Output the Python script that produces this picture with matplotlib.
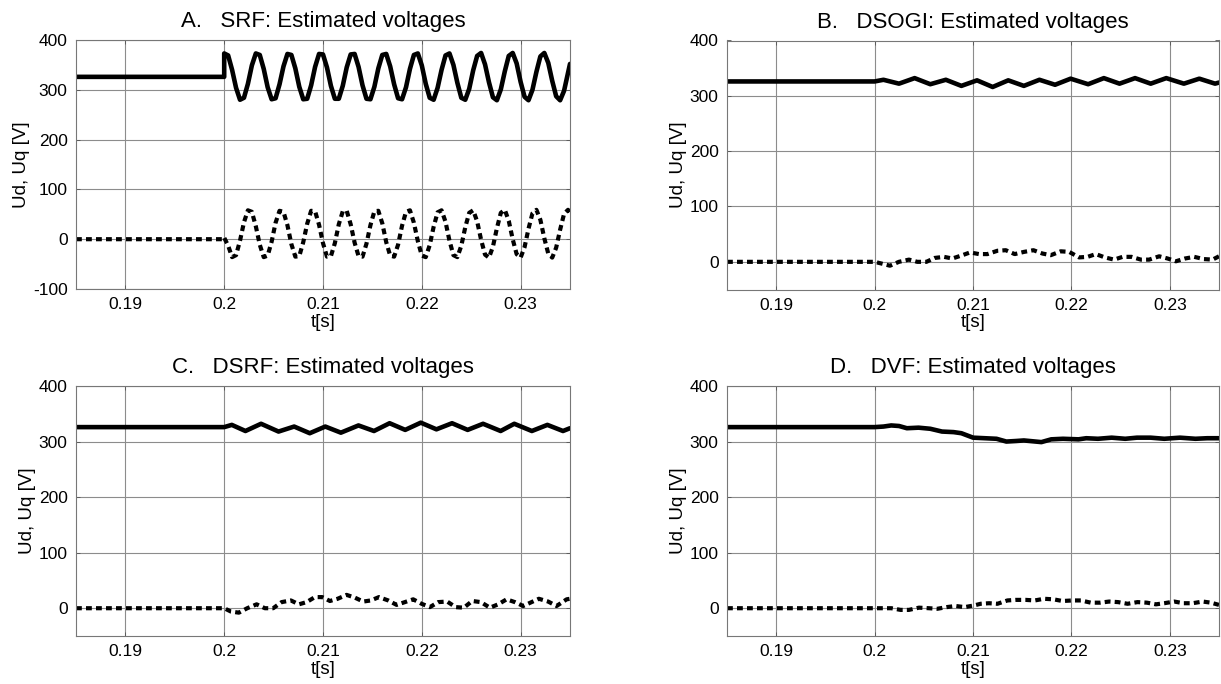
import numpy as np
import matplotlib.pyplot as plt

plt.rcParams['font.family'] = ['Liberation Sans', 'DejaVu Sans']
plt.rcParams['axes.unicode_minus'] = False

# ---- data (t in s, voltages in V) ----
t_pre = [0.185, 0.2]
ud_pre = [326, 326]
uq_pre = [0, 0]

# A. SRF, sampled every 0.4 ms after the disturbance
t_a = [0.2000, 0.2004, 0.2008, 0.2012, 0.2016, 0.2020, 0.2024, 0.2028,
       0.2032, 0.2036, 0.2040, 0.2044, 0.2048, 0.2052, 0.2056, 0.2060,
       0.2064, 0.2068, 0.2072, 0.2076, 0.2080, 0.2084, 0.2088, 0.2092,
       0.2096, 0.2100, 0.2104, 0.2108, 0.2112, 0.2116, 0.2120, 0.2124,
       0.2128, 0.2132, 0.2136, 0.2140, 0.2144, 0.2148, 0.2152, 0.2156,
       0.2160, 0.2164, 0.2168, 0.2172, 0.2176, 0.2180, 0.2184, 0.2188,
       0.2192, 0.2196, 0.2200, 0.2204, 0.2208, 0.2212, 0.2216, 0.2220,
       0.2224, 0.2228, 0.2232, 0.2236, 0.2240, 0.2244, 0.2248, 0.2252,
       0.2256, 0.2260, 0.2264, 0.2268, 0.2272, 0.2276, 0.2280, 0.2284,
       0.2288, 0.2292, 0.2296, 0.2300, 0.2304, 0.2308, 0.2312, 0.2316,
       0.2320, 0.2324, 0.2328, 0.2332, 0.2336, 0.2340, 0.2344, 0.2348,
       0.2350]
ud_a = [373, 369, 340, 304, 280, 284, 312, 349,
        373, 370, 342, 305, 281, 283, 311, 347,
        372, 370, 343, 306, 281, 282, 309, 346,
        372, 371, 345, 308, 282, 282, 308, 345,
        371, 372, 346, 309, 282, 281, 306, 343,
        370, 372, 347, 311, 283, 281, 305, 342,
        370, 373, 349, 312, 284, 280, 304, 340,
        369, 373, 350, 314, 284, 280, 302, 339,
        368, 374, 351, 315, 285, 279, 301, 337,
        368, 374, 353, 316, 286, 279, 300, 336,
        367, 374, 354, 318, 287, 279, 298, 334,
        352]
uq_a = [3, -13, -36, -32, -3, 34, 58, 55,
        26, -11, -36, -33, -5, 33, 57, 55,
        28, -10, -35, -34, -6, 31, 57, 56,
        29, -8, -35, -34, -8, 30, 56, 57,
        30, -7, -34, -35, -9, 28, 56, 57,
        32, -6, -33, -35, -11, 27, 55, 58,
        33, -4, -33, -36, -12, 25, 54, 58,
        35, -3, -32, -36, -13, 24, 53, 58,
        36, -1, -31, -37, -15, 22, 53, 59,
        37, 0, -30, -37, -16, 21, 52, 59,
        39, 2, -29, -37, -17, 19, 51, 59,
        53]

# B. DSOGI
t_b_ud = [0.2009, 0.20248, 0.20407, 0.20566, 0.20724, 0.20882, 0.21041,
          0.212, 0.21358, 0.21517, 0.21675, 0.21834, 0.21992, 0.2217,
          0.2233, 0.22489, 0.22647, 0.22806, 0.22964, 0.23143, 0.233,
          0.2346, 0.235]
ud_b = [329, 322, 332, 321, 329, 318, 328, 316, 328, 318, 329, 320, 331,
        321, 332, 322, 332, 322, 332, 322, 331, 322, 324]
t_b_uq = [0.20068, 0.20156, 0.20247, 0.20349, 0.20434, 0.20526, 0.2061,
          0.20705, 0.2079, 0.20892, 0.2097, 0.21061, 0.21146, 0.21248,
          0.21333, 0.21424, 0.21519, 0.21614, 0.21706, 0.2179, 0.21892,
          0.21977, 0.22078, 0.22164, 0.22248, 0.2234, 0.22434, 0.2252,
          0.22611, 0.22706, 0.2279, 0.22892, 0.22978, 0.23062, 0.23154,
          0.23248, 0.23344, 0.23435, 0.235]
uq_b = [-3, -7, 0, 4, 0, 0, 7, 9, 6, 12, 17, 14, 14, 20, 21, 14, 18, 21,
        15, 12, 19, 18, 8, 9, 14, 8, 4, 9, 9, 4, 4, 10, 6, 1, 6, 9, 5, 4, 10]

# C. DSRF
t_c_ud = [0.20077, 0.20215, 0.20373, 0.2055, 0.20708, 0.20866, 0.21023,
          0.21181, 0.21359, 0.21516, 0.21674, 0.21832, 0.2199, 0.22148,
          0.22306, 0.22464, 0.2262, 0.22798, 0.22936, 0.23114, 0.23271,
          0.23429, 0.235]
ud_c = [330, 319, 332, 318, 327, 315, 327, 316, 329, 319, 333, 321, 334,
        322, 333, 321, 332, 319, 332, 319, 330, 319, 324]
t_c_uq = [0.20068, 0.20149, 0.20233, 0.20328, 0.20412, 0.20496, 0.20581,
          0.20675, 0.20756, 0.20834, 0.20918, 0.20992, 0.2107, 0.21148,
          0.21239, 0.21323, 0.21407, 0.21485, 0.21566, 0.2166, 0.21745,
          0.21829, 0.21913, 0.21998, 0.22082, 0.22166, 0.22257, 0.22342,
          0.22426, 0.2251, 0.22598, 0.22689, 0.22773, 0.22858, 0.22942,
          0.23026, 0.23111, 0.23185, 0.23279, 0.23364, 0.23466, 0.235]
uq_c = [-6, -8, 0, 7, 0, 0, 11, 14, 7, 11, 20, 20, 13, 17, 24, 19, 12, 14,
        20, 14, 6, 11, 16, 8, 2, 11, 12, 2, 1, 13, 11, 1, 7, 16, 11, 4, 11,
        17, 12, 4, 16, 17]

# D. DVF
t_d_ud = [0.2009, 0.20169, 0.20248, 0.20328, 0.20447, 0.20566, 0.20685,
          0.20803, 0.20882, 0.21001, 0.2112, 0.21239, 0.21339, 0.21437,
          0.21517, 0.21636, 0.21695, 0.21795, 0.21914, 0.22072, 0.22151,
          0.2227, 0.22409, 0.22547, 0.22666, 0.22805, 0.22944, 0.23103,
          0.23261, 0.2338, 0.235]
ud_d = [327, 329, 328, 324, 325, 323, 318, 317, 315, 307, 306, 305, 300,
        301, 302, 300, 299, 304, 305, 304, 306, 305, 307, 305, 307, 307,
        305, 307, 305, 306, 306]
t_d_uq = [0.20068, 0.2017, 0.20264, 0.20349, 0.20451, 0.20552, 0.20638,
          0.20732, 0.20824, 0.20916, 0.2101, 0.21078, 0.21163, 0.21248,
          0.2135, 0.21434, 0.21536, 0.21628, 0.21722, 0.21818, 0.21909,
          0.22011, 0.22096, 0.22197, 0.22292, 0.22384, 0.22475, 0.22571,
          0.22672, 0.22767, 0.22859, 0.22943, 0.23045, 0.2314, 0.23232,
          0.23334, 0.23418, 0.235]
uq_d = [0, 0, -3, -3, 1, 0, -1, 2, 4, 2, 5, 8, 9, 8, 14, 15, 15, 14, 17, 16,
        13, 14, 14, 10, 10, 12, 11, 8, 11, 10, 7, 9, 12, 9, 9, 12, 10, 6]

panels = [
    ("A.   SRF: Estimated voltages", t_pre + t_a, ud_pre + ud_a, t_pre + t_a, uq_pre + uq_a, (-100, 400)),
    ("B.   DSOGI: Estimated voltages", t_pre + t_b_ud, ud_pre + ud_b, t_pre + t_b_uq, uq_pre + uq_b, (-50, 400)),
    ("C.   DSRF: Estimated voltages", t_pre + t_c_ud, ud_pre + ud_c, t_pre + t_c_uq, uq_pre + uq_c, (-50, 400)),
    ("D.   DVF: Estimated voltages", t_pre + t_d_ud, ud_pre + ud_d, t_pre + t_d_uq, uq_pre + uq_d, (-50, 400)),
]
x_ticks = [0.19, 0.2, 0.21, 0.22, 0.23]
x_tick_labels = ['0.19', '0.2', '0.21', '0.22', '0.23']

W, H = 1221, 684
boxes = [(76, 40, 494, 249), (727, 40.5, 492, 249),
         (76, 386, 494, 250), (727, 386, 492, 250)]

fig = plt.figure(figsize=(W / 100, H / 100), dpi=100)

for (title, td, ud, tq, uq, ylim), (x0, y0, w, h) in zip(panels, boxes):
    ax = fig.add_axes([x0 / W, 1 - (y0 + h) / H, w / W, h / H])
    ax.plot(td, ud, color='black', linewidth=3.3, solid_joinstyle='round',
            solid_capstyle='round')
    ax.plot(tq, uq, color='black', linewidth=3.0,
            linestyle=(0, (1.4, 1.0)), dash_capstyle='butt')
    ax.set_xlim(0.185, 0.235)
    ax.set_ylim(*ylim)
    ax.set_yticks(np.arange(ylim[0] if ylim[0] == -100 else 0, 401, 100))
    ax.set_xticks(x_ticks)
    ax.set_xticklabels(x_tick_labels)
    ax.grid(True, color='#8c8c8c', linewidth=0.8)
    ax.set_axisbelow(True)
    for s in ax.spines.values():
        s.set_color('#777777')
        s.set_linewidth(0.8)
    ax.tick_params(direction='in', length=3, width=0.6, color='#555555',
                   top=True, right=True, labelsize=12.5, pad=6)
    ax.set_title(title, fontsize=16, pad=9)
    ax.set_xlabel('t[s]', fontsize=13.5, labelpad=1)
    ax.set_ylabel('Ud, Uq [V]', fontsize=13.5, labelpad=2)

fig.savefig('out.png', dpi=100)
